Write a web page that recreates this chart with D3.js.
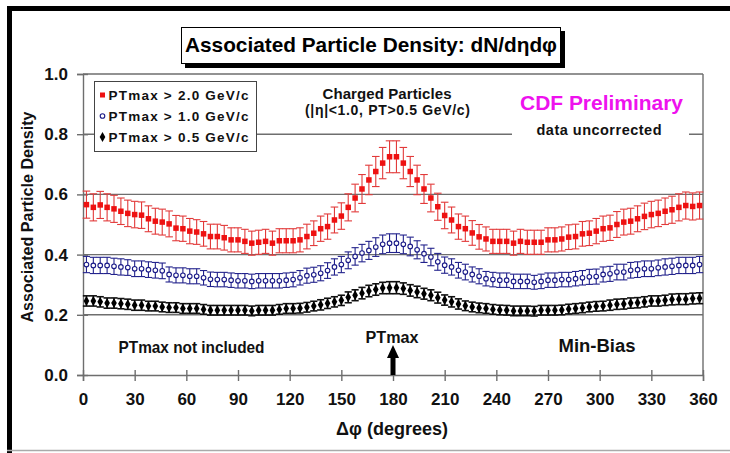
<!DOCTYPE html>
<html><head><meta charset="utf-8">
<script src="https://cdn.jsdelivr.net/npm/d3@7"></script>
<style>body{margin:0;background:#fff}svg{display:block}text{font-family:"Liberation Sans",Arial,sans-serif;font-weight:bold}</style>
</head><body>
<script>
const phi = [2,6,10,14,18,22,26,30,34,38,42,46,50,54,58,62,66,70,74,78,82,86,90,94,98,102,106,110,114,118,122,126,130,134,138,142,146,150,154,158,162,166,170,174,178,182,186,190,194,198,202,206,210,214,218,222,226,230,234,238,242,246,250,254,258,262,266,270,274,278,282,286,290,294,298,302,306,310,314,318,322,326,330,334,338,342,346,350,354,358];
const red = [0.566,0.557,0.565,0.557,0.552,0.544,0.537,0.533,0.531,0.519,
 0.511,0.508,0.502,0.488,0.486,0.478,0.475,0.469,0.460,0.460,
 0.456,0.449,0.449,0.444,0.438,0.441,0.444,0.438,0.446,0.446,
 0.446,0.449,0.460,0.471,0.486,0.493,0.515,0.528,0.557,0.588,
 0.618,0.648,0.676,0.704,0.725,0.725,0.704,0.676,0.648,0.618,
 0.588,0.559,0.530,0.515,0.493,0.486,0.472,0.459,0.452,0.444,
 0.444,0.444,0.438,0.444,0.441,0.441,0.441,0.449,0.449,0.452,
 0.458,0.460,0.469,0.471,0.478,0.486,0.489,0.500,0.508,0.511,
 0.519,0.527,0.533,0.537,0.544,0.549,0.557,0.563,0.560,0.563];
const redErr = [0.045,0.045,0.045,0.045,0.045,0.044,0.044,0.044,0.044,0.043,
 0.043,0.043,0.043,0.042,0.042,0.042,0.041,0.041,0.041,0.041,
 0.041,0.040,0.040,0.040,0.040,0.040,0.040,0.040,0.040,0.040,
 0.040,0.040,0.041,0.041,0.042,0.042,0.043,0.044,0.045,0.046,
 0.048,0.049,0.050,0.052,0.053,0.053,0.052,0.050,0.049,0.048,
 0.046,0.045,0.044,0.043,0.042,0.042,0.041,0.041,0.040,0.040,
 0.040,0.040,0.040,0.040,0.040,0.040,0.040,0.040,0.040,0.040,
 0.041,0.041,0.041,0.041,0.042,0.042,0.042,0.043,0.043,0.043,
 0.043,0.044,0.044,0.044,0.044,0.045,0.045,0.045,0.045,0.045];
const blue = [0.367,0.364,0.364,0.364,0.361,0.359,0.357,0.353,0.353,0.350,
 0.348,0.346,0.334,0.331,0.331,0.328,0.328,0.323,0.318,0.317,
 0.317,0.315,0.313,0.313,0.311,0.313,0.313,0.313,0.313,0.315,
 0.317,0.323,0.330,0.333,0.338,0.347,0.359,0.367,0.381,0.394,
 0.405,0.414,0.425,0.434,0.438,0.438,0.434,0.427,0.416,0.403,
 0.392,0.376,0.365,0.359,0.348,0.342,0.334,0.328,0.320,0.317,
 0.315,0.315,0.311,0.311,0.311,0.308,0.311,0.315,0.315,0.317,
 0.317,0.320,0.323,0.326,0.327,0.334,0.336,0.342,0.342,0.348,
 0.350,0.353,0.353,0.356,0.359,0.361,0.364,0.364,0.364,0.367];
const blueErr = [0.027,0.027,0.027,0.027,0.027,0.027,0.026,0.026,0.026,0.026,
 0.026,0.026,0.025,0.025,0.025,0.025,0.025,0.024,0.024,0.024,
 0.024,0.024,0.024,0.024,0.024,0.024,0.024,0.024,0.024,0.024,
 0.024,0.024,0.025,0.025,0.025,0.026,0.027,0.027,0.028,0.029,
 0.029,0.030,0.031,0.031,0.031,0.031,0.031,0.031,0.030,0.029,
 0.029,0.028,0.027,0.027,0.026,0.026,0.025,0.025,0.024,0.024,
 0.024,0.024,0.024,0.024,0.024,0.023,0.024,0.024,0.024,0.024,
 0.024,0.024,0.024,0.025,0.025,0.025,0.025,0.026,0.026,0.026,
 0.026,0.026,0.026,0.026,0.027,0.027,0.027,0.027,0.027,0.027];
const black = [0.246,0.246,0.243,0.239,0.239,0.237,0.235,0.232,0.232,0.229,
 0.229,0.226,0.224,0.224,0.221,0.221,0.221,0.218,0.215,0.215,
 0.215,0.215,0.215,0.215,0.213,0.215,0.215,0.215,0.218,0.221,
 0.221,0.222,0.225,0.229,0.233,0.238,0.243,0.248,0.258,0.265,
 0.272,0.279,0.284,0.289,0.290,0.290,0.287,0.281,0.276,0.270,
 0.265,0.257,0.249,0.243,0.236,0.230,0.226,0.223,0.221,0.218,
 0.216,0.215,0.213,0.213,0.213,0.212,0.215,0.215,0.215,0.216,
 0.219,0.221,0.223,0.226,0.228,0.229,0.232,0.235,0.236,0.239,
 0.240,0.243,0.246,0.246,0.248,0.251,0.252,0.252,0.254,0.255];
const blackErr = [0.017,0.017,0.017,0.017,0.017,0.017,0.017,0.017,0.017,0.016,
 0.016,0.016,0.016,0.016,0.016,0.016,0.016,0.016,0.016,0.016,
 0.016,0.016,0.016,0.016,0.016,0.016,0.016,0.016,0.016,0.016,
 0.016,0.016,0.016,0.016,0.017,0.017,0.017,0.017,0.018,0.018,
 0.019,0.019,0.019,0.019,0.020,0.020,0.019,0.019,0.019,0.018,
 0.018,0.018,0.017,0.017,0.017,0.016,0.016,0.016,0.016,0.016,
 0.016,0.016,0.016,0.016,0.016,0.016,0.016,0.016,0.016,0.016,
 0.016,0.016,0.016,0.016,0.016,0.016,0.017,0.017,0.017,0.017,
 0.017,0.017,0.017,0.017,0.017,0.018,0.018,0.018,0.018,0.018];
const xTicks = [0,30,60,90,120,150,180,210,240,270,300,330,360];
const yTicks = [0.0,0.2,0.4,0.6,0.8,1.0];
const gridVals = [0.2,0.4,0.6,0.8];
const seriesNames = ["PTmax > 2.0 GeV/c","PTmax > 1.0 GeV/c","PTmax > 0.5 GeV/c"];

const W = 730, H = 453;
const svg = d3.select("body").append("svg").attr("width", W).attr("height", H);
svg.append("rect").attr("width", W).attr("height", H).attr("fill", "#fff");

const x = d3.scaleLinear().domain([0, 360]).range([83, 703]);
const y = d3.scaleLinear().domain([0, 1]).range([375, 74]);

// outer frame
svg.append("line").attr("x1", 9.5).attr("x2", 9.5).attr("y1", 6).attr("y2", 453).attr("stroke", "#000").attr("stroke-width", 5);
svg.append("line").attr("x1", 7).attr("x2", 730).attr("y1", 8.5).attr("y2", 8.5).attr("stroke", "#000").attr("stroke-width", 5);
svg.append("line").attr("x1", 7).attr("x2", 730).attr("y1", 450.5).attr("y2", 450.5).attr("stroke", "#aaa").attr("stroke-width", 1.5);

// gridlines
svg.append("g").selectAll("line").data(gridVals).join("line")
  .attr("x1", x(0)).attr("x2", x(360)).attr("y1", d => y(d)).attr("y2", d => y(d))
  .attr("stroke", "#6e6e6e").attr("stroke-width", 1.4);
svg.append("line").attr("x1", x(0)).attr("x2", x(360)).attr("y1", y(1)).attr("y2", y(1)).attr("stroke", "#6e6e6e").attr("stroke-width", 1.4);
svg.append("line").attr("x1", x(360)).attr("x2", x(360)).attr("y1", y(1)).attr("y2", y(0)).attr("stroke", "#6e6e6e").attr("stroke-width", 1.4);

// axes
const yAxis = svg.append("g").attr("transform", `translate(${x(0)},0)`)
  .call(d3.axisLeft(y).tickValues(yTicks).tickFormat(d3.format(".1f")).tickSize(6).tickPadding(9));
const xAxis = svg.append("g").attr("transform", `translate(0,${y(0)})`)
  .call(d3.axisBottom(x).tickValues(xTicks).tickFormat(d3.format("d")).tickSize(6).tickPadding(12));
[yAxis, xAxis].forEach(g => {
  g.select(".domain").attr("stroke", "#6e6e6e").attr("stroke-width", 1.4);
  g.selectAll(".tick line").attr("stroke", "#6e6e6e").attr("stroke-width", 1.4);
  g.selectAll(".tick text").attr("fill", "#111").style("font-size", "17px").style("font-weight", "bold").style("font-family", '"Liberation Sans",Arial,sans-serif');
});
yAxis.selectAll(".tick line").attr("x1", 5).attr("x2", -6);
xAxis.selectAll(".tick line").attr("y1", -5).attr("y2", 6);

// axis titles
svg.append("text").attr("transform", "translate(33,217) rotate(-90)").attr("text-anchor", "middle")
  .style("font-size", "16.5px").attr("textLength", 211).attr("lengthAdjust", "spacingAndGlyphs").attr("fill", "#111")
  .text("Associated Particle Density");
svg.append("text").attr("x", 392).attr("y", 435).attr("text-anchor", "middle").style("font-size", "18px").attr("fill", "#111")
  .text("Δφ  (degrees)");

// series
function drawSeries(vals, errs, barColor, cap, sw, markFn) {
  const g = svg.append("g");
  const d = phi.map((p, i) => ({p, v: vals[i], e: errs[i]}));
  g.selectAll("line.v").data(d).join("line").attr("class", "v")
    .attr("x1", a => x(a.p)).attr("x2", a => x(a.p)).attr("y1", a => y(a.v - a.e)).attr("y2", a => y(a.v + a.e))
    .attr("stroke", barColor).attr("stroke-width", sw);
  g.selectAll("line.t").data(d).join("line").attr("class", "t")
    .attr("x1", a => x(a.p) - cap).attr("x2", a => x(a.p) + cap).attr("y1", a => y(a.v + a.e)).attr("y2", a => y(a.v + a.e))
    .attr("stroke", barColor).attr("stroke-width", sw);
  g.selectAll("line.b").data(d).join("line").attr("class", "b")
    .attr("x1", a => x(a.p) - cap).attr("x2", a => x(a.p) + cap).attr("y1", a => y(a.v - a.e)).attr("y2", a => y(a.v - a.e))
    .attr("stroke", barColor).attr("stroke-width", sw);
  markFn(g, d.map(a => [x(a.p), y(a.v)]));
}
const sqMark = (g, pts, s = 5.5) => g.selectAll("rect.m").data(pts).join("rect").attr("class", "m")
  .attr("x", p => p[0] - s / 2).attr("y", p => p[1] - s / 2).attr("width", s).attr("height", s).attr("fill", "#ee1111");
const circMark = (g, pts) => g.selectAll("circle.m").data(pts).join("circle").attr("class", "m")
  .attr("cx", p => p[0]).attr("cy", p => p[1]).attr("r", 2.3).attr("fill", "#fff").attr("stroke", "#1a1a88").attr("stroke-width", 1.1);
const dotMark = (g, pts) => g.selectAll("path.m").data(pts).join("path").attr("class", "m")
  .attr("d", p => d3.symbol(d3.symbolDiamond, 28)()).attr("transform", p => `translate(${p[0]},${p[1]})`).attr("fill", "#000");

drawSeries(black, blackErr, "#111", 3.6, 1.6, dotMark);
drawSeries(blue, blueErr, "#22228c", 3.6, 1.1, circMark);
drawSeries(red, redErr, "#e23a3a", 3.8, 1.1, (g, p) => sqMark(g, p));

// legend
const leg = svg.append("g");
leg.append("rect").attr("x", 94.5).attr("y", 81.5).attr("width", 162).attr("height", 70).attr("fill", "#fff").attr("stroke", "#444").attr("stroke-width", 1);
const legY = [99.5, 120.5, 141.5];
sqMark(leg, [[102.5, legY[0] - 4.5]], 5);
circMark(leg, [[102.5, legY[1] - 4.5]]);
dotMark(leg, [[102.5, legY[2] - 4.5]]);
leg.selectAll("text").data(seriesNames).join("text").attr("x", 108.5).attr("y", (d, i) => legY[i])
  .style("font-size", "13.5px").attr("textLength", 140).attr("lengthAdjust", "spacing").attr("fill", "#111").text(d => d);

// annotations
svg.append("text").attr("x", 387).attr("y", 99).attr("text-anchor", "middle").style("font-size", "15px")
  .attr("textLength", 129).attr("lengthAdjust", "spacing").attr("fill", "#111").text("Charged Particles");
svg.append("text").attr("x", 387.5).attr("y", 115).attr("text-anchor", "middle").style("font-size", "14px")
  .attr("textLength", 165).attr("lengthAdjust", "spacing").attr("fill", "#111").text("(|η|<1.0, PT>0.5 GeV/c)");
svg.append("rect").attr("x", 512).attr("y", 90).attr("width", 177).attr("height", 50).attr("fill", "#fff");
svg.append("text").attr("x", 601.5).attr("y", 110).attr("text-anchor", "middle").style("font-size", "20px")
  .attr("textLength", 163).attr("lengthAdjust", "spacingAndGlyphs").attr("fill", "#ee11ee").text("CDF Preliminary");
svg.append("text").attr("x", 599).attr("y", 135).attr("text-anchor", "middle").style("font-size", "14.5px")
  .attr("textLength", 125).attr("lengthAdjust", "spacing").attr("fill", "#111").text("data uncorrected");
svg.append("text").attr("x", 191.5).attr("y", 353).attr("text-anchor", "middle").style("font-size", "17px")
  .attr("textLength", 146).attr("lengthAdjust", "spacingAndGlyphs").attr("fill", "#111").text("PTmax not included");
svg.append("text").attr("x", 392).attr("y", 343).attr("text-anchor", "middle").style("font-size", "16px")
  .attr("textLength", 53).attr("lengthAdjust", "spacingAndGlyphs").attr("fill", "#111").text("PTmax");
svg.append("text").attr("x", 597).attr("y", 352).attr("text-anchor", "middle").style("font-size", "18px")
  .attr("textLength", 77).attr("lengthAdjust", "spacingAndGlyphs").attr("fill", "#111").text("Min-Bias");
const ax = x(180);
svg.append("rect").attr("x", ax - 2.5).attr("y", 356).attr("width", 5).attr("height", y(0) - 356).attr("fill", "#000");
svg.append("path").attr("d", `M${ax},345 L${ax - 6},358 L${ax + 6},358 Z`).attr("fill", "#000");

// title box
svg.append("rect").attr("x", 185).attr("y", 31).attr("width", 380).attr("height", 37).attr("fill", "#000");
svg.append("rect").attr("x", 181.5).attr("y", 27.5).attr("width", 379).attr("height", 36).attr("fill", "#fff").attr("stroke", "#000").attr("stroke-width", 1);
svg.append("text").attr("x", 185).attr("y", 52).style("font-size", "21px")
  .attr("textLength", 372).attr("lengthAdjust", "spacingAndGlyphs").attr("fill", "#000")
  .text("Associated Particle Density: dN/dηdφ");
</script>
</body></html>
